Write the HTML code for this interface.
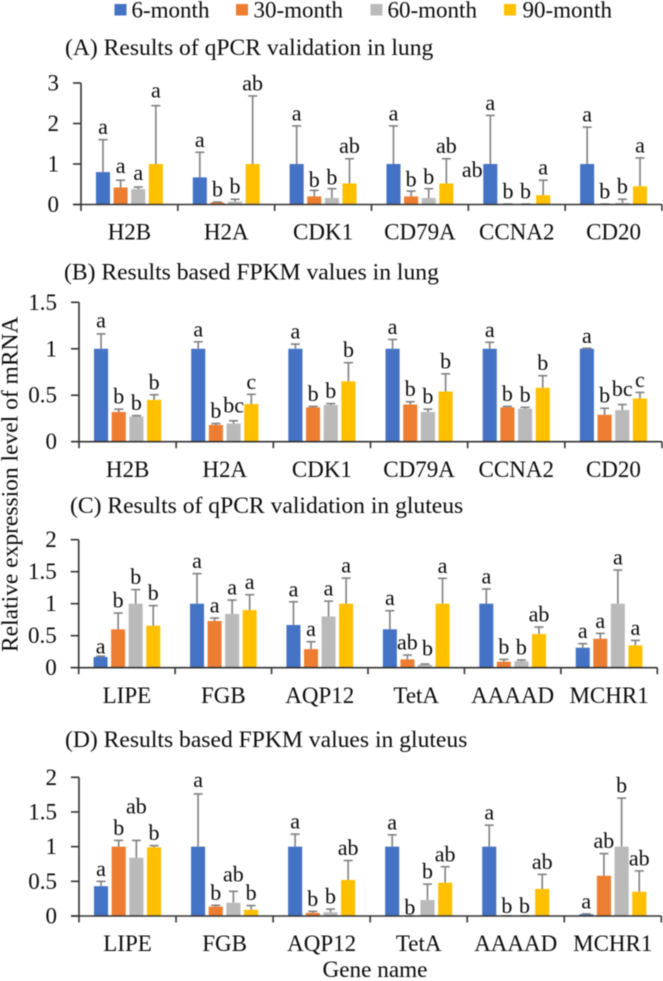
<!DOCTYPE html>
<html lang="en">
<head>
<meta charset="utf-8">
<title>Relative expression level of mRNA</title>
<style>
  html, body { margin: 0; padding: 0; background: #fff; width: 663px; height: 981px; overflow: hidden; }
  svg { display: block; filter: blur(0.4px); }
  text { font-family: "Liberation Serif", serif; fill: #0a0a0a; }
</style>
</head>
<body>
<svg id="chart" width="663" height="981" viewBox="0 0 663 981" xmlns="http://www.w3.org/2000/svg">
  <rect x="0" y="0" width="663" height="981" fill="#ffffff"/>
  <g>
    <g>
      <rect x="114.5" y="4" width="12" height="11.5" fill="#4472C4"/>
      <text x="131.5" y="17.5" font-size="23">6-month</text>
    </g>
    <g>
      <rect x="236" y="4" width="12" height="11.5" fill="#ED7D31"/>
      <text x="253.5" y="17.5" font-size="23">30-month</text>
    </g>
    <g>
      <rect x="370.5" y="4" width="12" height="11.5" fill="#BABABA"/>
      <text x="387.5" y="17.5" font-size="23">60-month</text>
    </g>
    <g>
      <rect x="504" y="4" width="12" height="11.5" fill="#FFC000"/>
      <text x="522.5" y="17.5" font-size="23">90-month</text>
    </g>
  </g>
  <text x="65" y="55" font-size="23.6">(A) Results of qPCR validation in lung</text>
  <text x="64" y="279.5" font-size="23.6">(B) Results based FPKM values in lung</text>
  <text x="70" y="513" font-size="23.6">(C) Results of qPCR validation in gluteus</text>
  <text x="65" y="747" font-size="23.6">(D) Results based FPKM values in gluteus</text>
  <text transform="translate(17.5,652) rotate(-90)" font-size="23.5">Relative expression level of mRNA</text>
  <text x="322.5" y="977" font-size="23.2">Gene name</text>
</svg>
<script>
// Series
const seriesNames = ['6-month', '30-month', '60-month', '90-month'];

// Panel A: qPCR, lung (rows are genes, columns are series)
const lungQpcrGenes = ['H2B', 'H2A', 'CDK1', 'CD79A', 'CCNA2', 'CD20'];
const lungQpcrTicks = ['0', '1', '2', '3'];
const lungQpcrMeans = [
  [0.80, 0.42, 0.38, 1.00],
  [0.67, 0.05, 0.07, 1.00],
  [1.00, 0.20, 0.16, 0.52],
  [1.00, 0.20, 0.16, 0.52],
  [1.00, 0.005, 0.005, 0.23],
  [1.00, 0.01, 0.04, 0.45]
];
const lungQpcrErrorTops = [
  [1.60, 0.60, 0.43, 2.44],
  [1.29, 0.06, 0.13, 2.68],
  [1.94, 0.35, 0.39, 1.13],
  [1.94, 0.33, 0.39, 1.13],
  [2.20, 0.01, 0.01, 0.60],
  [1.91, 0.01, 0.13, 1.15]
];
const lungQpcrLetters = [
  ['a', 'a', 'a', 'a'],
  ['a', 'b', 'b', 'ab'],
  ['a', 'b', 'b', 'ab'],
  ['a', 'b', 'b', 'ab'],
  ['a', 'b', 'b', 'a'],
  ['a', 'b', 'b', 'a']
];

// Panel B: FPKM, lung
const lungFpkmGenes = ['H2B', 'H2A', 'CDK1', 'CD79A', 'CCNA2', 'CD20'];
const lungFpkmTicks = ['0', '0.5', '1', '1.5'];
const lungFpkmMeans = [
  [1.00, 0.32, 0.27, 0.45],
  [1.00, 0.18, 0.195, 0.405],
  [1.00, 0.37, 0.395, 0.65],
  [1.00, 0.40, 0.32, 0.54],
  [1.00, 0.37, 0.355, 0.58],
  [1.00, 0.29, 0.34, 0.465]
];
const lungFpkmErrorTops = [
  [1.16, 0.35, 0.28, 0.505],
  [1.075, 0.195, 0.225, 0.51],
  [1.05, 0.38, 0.41, 0.85],
  [1.10, 0.43, 0.35, 0.73],
  [1.07, 0.38, 0.37, 0.71],
  [1.005, 0.36, 0.40, 0.53]
];
const lungFpkmLetters = [
  ['a', 'b', 'b', 'b'],
  ['a', 'b', 'bc', 'c'],
  ['a', 'b', 'b', 'b'],
  ['a', 'b', 'b', 'b'],
  ['a', 'b', 'b', 'b'],
  ['a', 'b', 'bc', 'c']
];

// Panel C: qPCR, gluteus
const gluteusQpcrGenes = ['LIPE', 'FGB', 'AQP12', 'TetA', 'AAAAD', 'MCHR1'];
const gluteusQpcrTicks = ['0', '0.5', '1', '1.5', '2'];
const gluteusQpcrMeans = [
  [0.167, 0.60, 1.00, 0.656],
  [1.00, 0.73, 0.84, 0.90],
  [0.667, 0.29, 0.80, 1.00],
  [0.60, 0.13, 0.047, 1.00],
  [1.00, 0.094, 0.10, 0.526],
  [0.3125, 0.453, 1.00, 0.349]
];
const gluteusQpcrErrorTops = [
  [0.18, 0.854, 1.22, 0.97],
  [1.47, 0.776, 1.057, 1.14],
  [1.03, 0.406, 1.04, 1.40],
  [0.89, 0.198, 0.057, 1.396],
  [1.23, 0.13, 0.12, 0.635],
  [0.375, 0.536, 1.526, 0.427]
];
const gluteusQpcrLetters = [
  ['a', 'b', 'b', 'b'],
  ['a', 'a', 'a', 'a'],
  ['a', 'a', 'a', 'a'],
  ['a', 'ab', 'b', 'a'],
  ['a', 'b', 'b', 'ab'],
  ['a', 'a', 'a', 'a']
];

// Panel D: FPKM, gluteus
const gluteusFpkmGenes = ['LIPE', 'FGB', 'AQP12', 'TetA', 'AAAAD', 'MCHR1'];
const gluteusFpkmTicks = ['0', '0.5', '1', '1.5', '2'];
const gluteusFpkmMeans = [
  [0.43, 1.00, 0.84, 0.99],
  [1.00, 0.135, 0.19, 0.09],
  [1.00, 0.045, 0.055, 0.52],
  [1.00, 0.002, 0.23, 0.48],
  [1.00, 0.002, 0.002, 0.39],
  [0.025, 0.58, 1.00, 0.35]
];
const gluteusFpkmErrorTops = [
  [0.50, 1.09, 1.09, 1.014],
  [1.76, 0.154, 0.356, 0.15],
  [1.18, 0.067, 0.10, 0.80],
  [1.17, 0.002, 0.46, 0.71],
  [1.31, 0.002, 0.002, 0.60],
  [0.03, 0.90, 1.70, 0.65]
];
const gluteusFpkmLetters = [
  ['a', 'b', 'ab', 'b'],
  ['a', 'b', 'ab', 'b'],
  ['a', 'b', 'b', 'ab'],
  ['a', 'b', 'b', 'ab'],
  ['a', 'b', 'b', 'ab'],
  ['a', 'ab', 'b', 'ab']
];

// Layout (separate from the data above)
const barColors = ['#4472C4', '#ED7D31', '#BABABA', '#FFC000'];
const panels = [
  { id: 'a', genes: lungQpcrGenes, ticks: lungQpcrTicks, means: lungQpcrMeans, tops: lungQpcrErrorTops, letters: lungQpcrLetters,
    left: 81, right: 662, top: 83, base: 204.5, catY: 239.5,
    nudges: { '0,1': [0, -1.5], '0,2': [0, -1.5], '0,3': [0, -2.5], '2,1': [0, 2], '2,2': [0, 1.5], '3,1': [0, 1], '3,2': [0, 1] },
    stray: [{ gene: 4, series: 0, text: 'ab', dx: -18, dy: 13 }] },
  { id: 'b', genes: lungFpkmGenes, ticks: lungFpkmTicks, means: lungFpkmMeans, tops: lungFpkmErrorTops, letters: lungFpkmLetters,
    left: 79, right: 662, top: 302.3, base: 441.7, catY: 477,
    nudges: { '0,0': [0, -1], '1,2': [0, -3], '5,2': [0, -3] }, stray: [] },
  { id: 'c', genes: gluteusQpcrGenes, ticks: gluteusQpcrTicks, means: gluteusQpcrMeans, tops: gluteusQpcrErrorTops, letters: gluteusQpcrLetters,
    left: 78.7, right: 657.3, top: 539.7, base: 667.7, catY: 703,
    nudges: { '0,0': [0, 3], '3,2': [2.5, -3] }, stray: [] },
  { id: 'd', genes: gluteusFpkmGenes, ticks: gluteusFpkmTicks, means: gluteusFpkmMeans, tops: gluteusFpkmErrorTops, letters: gluteusFpkmLetters,
    left: 79, right: 661.3, top: 777.3, base: 916, catY: 951,
    nudges: { '0,2': [0, -21.5], '1,0': [0, -1.5], '1,2': [0, -4.5], '3,1': [0, 4], '4,1': [0, 2.5], '4,2': [0, 2.5] }, stray: [] }
];

const SVG_NS = 'http://www.w3.org/2000/svg';
const AXIS_COLOR = '#333333';
const ERROR_COLOR = '#808080';
const LABEL_GAP = 5.5;
const chart = document.getElementById('chart');

function node(parent, tag, attrs) {
  const el = document.createElementNS(SVG_NS, tag);
  for (const key in attrs) el.setAttribute(key, attrs[key]);
  parent.appendChild(el);
  return el;
}

function drawPanel(p) {
  const group = node(chart, 'g', {});
  
  

  const maxTick = parseFloat(p.ticks[p.ticks.length - 1]);
  const yScale = v => p.base - (v / maxTick) * (p.base - p.top);
  const band = (p.right - p.left) / p.genes.length;
  const step = band * 0.182;
  const barWidth = band * 0.145;
  const xCenter = (g, s) => p.left + band * (g + 0.5) + (s - 1.5) * step;

  // Bars, error bars and significance letters
  p.genes.forEach((gene, g) => {
    seriesNames.forEach((name, s) => {
      const mean = p.means[g][s];
      const top = p.tops[g][s];
      const cx = xCenter(g, s);

      const bar = node(group, 'rect', {
        x: cx - barWidth / 2, y: yScale(mean), width: barWidth,
        height: p.base - yScale(mean), fill: barColors[s]
      });
      
      

      const stem = node(group, 'line', {
        x1: cx, x2: cx, y1: yScale(mean), y2: yScale(top),
        stroke: ERROR_COLOR, 'stroke-width': 1.6
      });
      
      

      const cap = node(group, 'line', {
        x1: cx - 4.5, x2: cx + 4.5, y1: yScale(top), y2: yScale(top),
        stroke: ERROR_COLOR, 'stroke-width': 1.6
      });
      
      

      const nudge = p.nudges[g + ',' + s] || [0, 0];
      const letter = node(group, 'text', {
        x: cx + nudge[0], y: yScale(top) - LABEL_GAP + nudge[1],
        'font-size': 22, 'text-anchor': 'middle'
      });
      letter.textContent = p.letters[g][s];
      
      
    });
  });

  p.stray.forEach(item => {
    const extra = node(group, 'text', {
      x: xCenter(item.gene, item.series) + item.dx,
      y: yScale(p.means[item.gene][item.series]) + item.dy,
      'font-size': 22, 'text-anchor': 'middle'
    });
    extra.textContent = item.text;
    
    
  });

  // Y axis
  const yAxis = node(group, 'line', {
    x1: p.left, x2: p.left, y1: p.top, y2: p.base,
    stroke: AXIS_COLOR, 'stroke-width': 1.6
  });
  
  

  p.ticks.forEach(label => {
    const y = yScale(parseFloat(label));
    const tick = node(group, 'line', {
      x1: p.left - 8, x2: p.left, y1: y, y2: y,
      stroke: AXIS_COLOR, 'stroke-width': 1.6
    });
    
    

    const text = node(group, 'text', {
      x: p.left - 22, y: y + 7.5, 'font-size': 23, 'text-anchor': 'end'
    });
    text.textContent = label;
    
    
  });

  // X axis
  const xAxis = node(group, 'line', {
    x1: p.left - 8, x2: p.right, y1: p.base, y2: p.base,
    stroke: AXIS_COLOR, 'stroke-width': 1.6
  });
  
  

  for (let i = 0; i <= p.genes.length; i++) {
    const x = p.left + band * i;
    const tick = node(group, 'line', {
      x1: x, x2: x, y1: p.base, y2: p.base + 6.5,
      stroke: AXIS_COLOR, 'stroke-width': 1.6
    });
    
    
  }

  p.genes.forEach((gene, g) => {
    const text = node(group, 'text', {
      x: p.left + band * (g + 0.5), y: p.catY, 'font-size': 23, 'text-anchor': 'middle'
    });
    text.textContent = gene;
    
    
  });
}

panels.forEach(drawPanel);
</script>
</body>
</html>
